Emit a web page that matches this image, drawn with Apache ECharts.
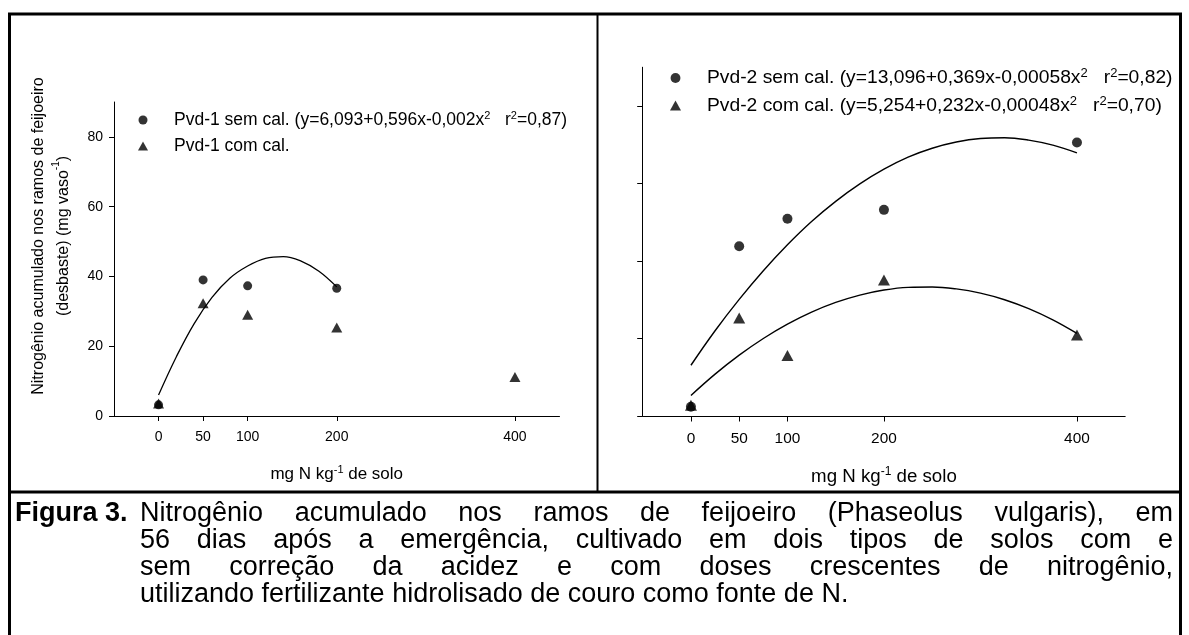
<!DOCTYPE html>
<html><head><meta charset="utf-8">
<script src="https://cdn.jsdelivr.net/npm/echarts@6/dist/echarts.min.js"></script>
<style>html,body{margin:0;padding:0;background:#fff}#c{width:1189px;height:635px}</style>
</head><body><div id="c"></div>
<script>
// ---- data ----
const doses = [0, 50, 100, 200, 400];
const pvd1SemCal = [3.2, 39.0, 37.3, 36.6, null];
const pvd1ComCal = [3.6, 32.3, 29.0, 25.4, 11.2];
const pvd2SemCal = [2.4, 43.8, 50.9, 53.2, 70.6];
const pvd2ComCal = [2.8, 25.3, 15.6, 35.1, 20.9];
// fitted curves
const fit1X = [0, 20, 40, 60, 80, 100, 120, 140, 160, 180, 200];
const fit1Sem = [6.0, 17.0, 26.5, 34.0, 39.5, 43.0, 45.2, 45.7, 44.4, 41.5, 37.0];
const fit2X = [0, 25, 50, 75, 100, 125, 150, 175, 200, 225, 250, 275, 300, 325, 350, 375, 400];
const fit2Sem = [13.1, 22.0, 30.1, 37.5, 44.2, 50.2, 55.4, 59.9, 63.7, 66.8, 69.1, 70.7, 71.6, 71.8, 71.2, 69.9, 67.9];
const fit2Com = [5.3, 10.8, 15.7, 20.0, 23.7, 26.8, 29.3, 31.2, 32.5, 33.2, 33.3, 32.8, 31.7, 30.0, 27.7, 24.8, 21.3];
const xTicks = [0, 50, 100, 200, 400];
const yTicks = [0, 20, 40, 60, 80];
const seriesNames = ['Pvd-1 sem cal.', 'Pvd-1 com cal.', 'Pvd-2 sem cal.', 'Pvd-2 com cal.'];
const legendLabels = {
  'Pvd-1 sem cal.': '{sp|}{t|Pvd-1 sem cal. (y=6,093+0,596x-0,002x}{s|2}{t|   r}{s|2}{t|=0,87)}',
  'Pvd-1 com cal.': '{sp|}{t|Pvd-1 com cal.}',
  'Pvd-2 sem cal.': '{sp|}{t|Pvd-2 sem cal. (y=13,096+0,369x-0,00058x}{s|2}{t|   r}{s|2}{t|=0,82)}',
  'Pvd-2 com cal.': '{sp|}{t|Pvd-2 com cal. (y=5,254+0,232x-0,00048x}{s|2}{t|   r}{s|2}{t|=0,70)}'
};
const xTitle = '{t|mg N kg}{s|-1}{t| de solo}';
const yTitle = '{t|Nitrogênio acumulado nos ramos de feijoeiro}\n{t|(desbaste) (mg vaso}{s|-1}{t|)}';
const captionHead = 'Figura 3.';
const captionLines = [
  'Nitrogênio acumulado nos ramos de feijoeiro (Phaseolus vulgaris), em',
  '56 dias após a emergência, cultivado em dois tipos de solos com e',
  'sem correção da acidez e com doses crescentes de nitrogênio,',
  'utilizando fertilizante hidrolisado de couro como fonte de N.'
];

// ---- styling (right panel is drawn ~1.1x larger in the original) ----
const FONT = '"Liberation Sans", Arial, Helvetica, sans-serif';
const BLACK = '#000';
function rich(size, lh, spw) {
  return {
    t: {fontSize: size, fontFamily: FONT, color: BLACK, lineHeight: lh},
    s: {fontSize: Math.round(size * 0.65), fontFamily: FONT, color: BLACK, verticalAlign: 'top', lineHeight: Math.round(size * 0.7)},
    sp: {width: spw || 21, lineHeight: lh}
  };
}
const pairs = (xs, ys) => xs.map((x, i) => [x, ys[i]]).filter(p => p[1] != null);

function xAxis(gridIndex, k, nameGap) {
  return {
    type: 'value', gridIndex, min: -50, max: 450,
    axisLine: {show: true, onZero: false, lineStyle: {color: BLACK, width: 1}},
    axisTick: {show: true, length: 5 * k, customValues: xTicks, lineStyle: {color: BLACK}},
    axisLabel: {customValues: xTicks, fontSize: 14 * k, fontFamily: FONT, color: BLACK, margin: 14 * k},
    splitLine: {show: false},
    name: xTitle, nameLocation: 'middle', nameGap,
    nameTextStyle: {rich: rich(17 * k, 20 * k)}
  };
}
function yAxis(gridIndex, k, showLabels) {
  const ax = {
    type: 'value', gridIndex, min: 0, max: 90,
    axisLine: {show: true, onZero: false, lineStyle: {color: BLACK, width: 1}},
    axisTick: {show: true, length: 5 * k, customValues: yTicks, lineStyle: {color: BLACK}},
    axisLabel: {show: showLabels, customValues: yTicks, fontSize: 14 * k, fontFamily: FONT, color: BLACK, margin: 11},
    splitLine: {show: false}
  };
  if (showLabels) {
    ax.name = yTitle; ax.nameLocation = 'middle'; ax.nameRotate = 90; ax.nameGap = 38;
    ax.nameTextStyle = {align: 'center', padding: [0, 0, 0, 46], rich: rich(16, 25)};
  }
  return ax;
}
function scatter(name, xi, ys, symbol, size) {
  return {type: 'scatter', name, xAxisIndex: xi, yAxisIndex: xi, data: pairs(doses, ys),
    symbol, symbolSize: size, itemStyle: {color: BLACK}, silent: true};
}
function fit(xi, xs, ys, w) {
  return {type: 'line', name: 'fit', xAxisIndex: xi, yAxisIndex: xi, data: pairs(xs, ys), smooth: 0.4,
    showSymbol: false, lineStyle: {color: BLACK, width: w}, silent: true};
}
function legend(names, left, top, k, gap, spw) {
  return {
    data: names, orient: 'vertical', left, top, itemWidth: 10 * k, itemHeight: 9 * k, itemGap: gap,
    selectedMode: false, formatter: n => legendLabels[n],
    textStyle: {fontSize: 17.5 * k, fontFamily: FONT, color: BLACK, rich: rich(17.5 * k, 20 * k, spw)}
  };
}

// ---- caption layout (justified like the original) ----
const CAP = 27, capLeft = 140, capRight = 1173, capMid0 = 514, capStep = 27;
const ctx = document.createElement('canvas').getContext('2d');
ctx.font = CAP + 'px ' + FONT;
const caption = [{type: 'text', x: 15, y: capMid0, style: {text: captionHead, fontSize: CAP, fontWeight: 'bold', fontFamily: FONT, fill: BLACK, verticalAlign: 'middle'}}];
captionLines.forEach((line, li) => {
  const y = capMid0 + li * capStep;
  if (li === captionLines.length - 1) {
    caption.push({type: 'text', x: capLeft, y, style: {text: line, fontSize: CAP, fontFamily: FONT, fill: BLACK, verticalAlign: 'middle'}});
    return;
  }
  const words = line.split(' ');
  const w = words.map(s => ctx.measureText(s).width);
  const gap = (capRight - capLeft - w.reduce((a, b) => a + b, 0)) / (words.length - 1);
  let x = capLeft;
  words.forEach((s, i) => {
    caption.push({type: 'text', x, y, style: {text: s, fontSize: CAP, fontFamily: FONT, fill: BLACK, verticalAlign: 'middle'}});
    x += w[i] + gap;
  });
});
const L = (x1, y1, x2, y2, w) => ({type: 'line', shape: {x1, y1, x2, y2}, style: {stroke: BLACK, lineWidth: w}, silent: true});
const frame = [
  L(8, 14, 1182, 14, 3), L(9.5, 13, 9.5, 635, 3), L(1180.5, 13, 1180.5, 635, 3),
  L(597.5, 14, 597.5, 492, 2), L(8, 492, 1182, 492, 3)
];

const K = 1.1;
const chart = echarts.init(document.getElementById('c'), null, {renderer: 'canvas'});
chart.setOption({
  animation: false,
  backgroundColor: '#fff',
  grid: [
    {left: 114, top: 102, width: 445.5, height: 314},
    {left: 642.7, top: 67.25, width: 482.5, height: 348.75}
  ],
  xAxis: [xAxis(0, 1, 48), xAxis(1, K, 50)],
  yAxis: [yAxis(0, 1, true), yAxis(1, K, false)],
  legend: [
    legend([seriesNames[0], seriesNames[1]], 133, 105, 1, 8, 21),
    legend([seriesNames[2], seriesNames[3]], 665, 62, K, 7, 21)
  ],
  series: [
    fit(0, fit1X, fit1Sem, 1.3),
    scatter(seriesNames[0], 0, pvd1SemCal, 'circle', 9),
    scatter(seriesNames[1], 0, pvd1ComCal, 'triangle', [11, 10]),
    fit(1, fit2X, fit2Sem, 1.4),
    fit(1, fit2X, fit2Com, 1.4),
    scatter(seriesNames[2], 1, pvd2SemCal, 'circle', 10),
    scatter(seriesNames[3], 1, pvd2ComCal, 'triangle', [12, 11])
  ],
  graphic: frame.concat(caption)
});
</script></body></html>
